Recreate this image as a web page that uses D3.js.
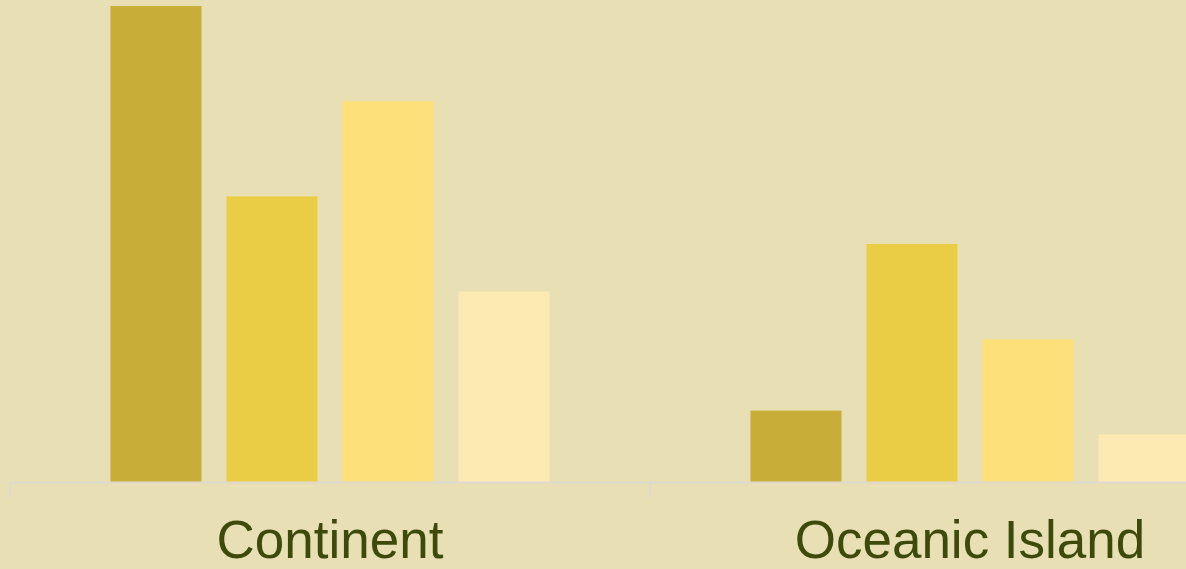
<!DOCTYPE html>
<html><head><meta charset="utf-8">
<script src="https://cdn.jsdelivr.net/npm/d3@7"></script>
<style>html,body{margin:0;padding:0;background:#E8DFB5;overflow:hidden}</style>
</head><body>
<svg id="c" width="1186" height="569"></svg>
<script>
const categories = ["Continent", "Oceanic Island"];
const series = ["A", "B", "C", "D"];
const continentValues = [5, 3, 4, 2];
const oceanicValues = [0.75, 2.5, 1.5, 0.5];
const colors = ["#C8AD38", "#EBCD45", "#FDE07A", "#FDEAB2"];

const values = [continentValues, oceanicValues];
const svg = d3.select("#c");
svg.append("rect").attr("width",1186).attr("height",569).attr("fill","#E8DFB5");

const x0 = d3.scaleBand().domain(categories).range([10, 1290]).paddingInner(0).paddingOuter(0);
const x1 = d3.scaleBand().domain(series).range([0, x0.bandwidth()]).paddingInner(0.2155).paddingOuter(0.866);
const y = d3.scaleLinear().domain([0, 5]).range([482, 6]);

const g = svg.append("g");
categories.forEach((c, ci) => {
  g.selectAll(null).data(values[ci]).enter().append("rect")
    .attr("x", (d, i) => x0(c) + x1(series[i]))
    .attr("y", d => y(d))
    .attr("width", x1.bandwidth())
    .attr("height", d => y(0) - y(d))
    .attr("fill", (d, i) => colors[i]);
});

const axis = svg.append("g").attr("transform", "translate(0,482)")
  .call(d3.axisBottom(x0).tickSize(16).tickSizeOuter(0).tickFormat(""));
axis.select(".domain").attr("stroke", "#DEDAD0").attr("stroke-width", 2);
axis.selectAll(".tick line").remove();
const edges = [x0.range()[0]].concat(categories.map(c => x0(c) + x0.bandwidth()));
axis.selectAll(".edge").data(edges).enter().append("line")
  .attr("x1", d => d).attr("x2", d => d).attr("y1", 0).attr("y2", 16)
  .attr("stroke", "#DEDAD0").attr("stroke-width", 2);
axis.selectAll(".lab").data(categories).enter().append("text")
  .attr("x", d => x0(d) + x0.bandwidth() / 2)
  .attr("y", 75.5)
  .attr("text-anchor", "middle")
  .attr("font-family", "Liberation Sans, Arial, sans-serif")
  .attr("font-size", 53)
  .attr("fill", "#3D4A0B")
  .text(d => d);
</script>
</body></html>
